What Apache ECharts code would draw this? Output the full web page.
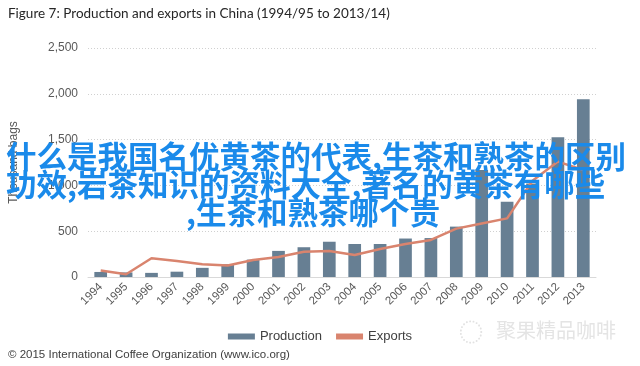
<!DOCTYPE html>
<html><head><meta charset="utf-8">
<script src="https://cdn.jsdelivr.net/npm/echarts@6/dist/echarts.min.js"></script>
<style>html,body{margin:0;padding:0;background:#fff}#c{width:640px;height:366px}</style>
</head><body><div id="c"></div>
<script>
const years = ['1994','1995','1996','1997','1998','1999','2000','2001','2002','2003','2004','2005','2006','2007','2008','2009','2010','2011','2012','2013'];
const production = [55,50,45,58,100,140,190,285,325,385,360,360,420,425,550,1168,822,1020,1525,1940];
const exportsData = [70,30,205,175,140,125,185,218,275,285,240,305,360,405,528,585,640,1050,1260,1168];
const yTicks = [0,500,1000,1500,2000,2500];
const titleText = 'Figure 7: Production and exports in China (1994/95 to 2013/14)';
const footerText = '© 2015 International Coffee Organization (www.ico.org)';
const overlayLines = ['什么是我国名优黄茶的代表,生茶和熟茶的区别','功效,岩茶知识的资料大全,著名的黄茶有哪些',',生茶和熟茶哪个贵'];
const watermarkText = '聚果精品咖啡';

const chart = echarts.init(document.getElementById('c'), null, {renderer:'canvas'});
const fmt = v => v.toLocaleString('en-US');
chart.setOption({
  animation:false,
  backgroundColor:'#fff',
  grid:{left:87,right:44,top:48,bottom:89,containLabel:false},
  legend:{
    left:'center', top:325, itemGap:14, itemWidth:27, itemHeight:6,
    textStyle:{fontFamily:'Liberation Sans',fontSize:13,color:'#404040'},
    data:[{name:'Production',icon:'rect'},{name:'Exports',icon:'rect'}]
  },
  xAxis:{
    type:'category', data:years,
    axisTick:{show:false},
    axisLine:{show:true,lineStyle:{color:'#d9d9d9',width:1}},
    axisLabel:{rotate:45,fontFamily:'Liberation Sans',fontSize:11.5,color:'#595959',margin:8,interval:0}
  },
  yAxis:{
    type:'value', min:yTicks[0], max:yTicks[yTicks.length-1], interval:500,
    name:'Thousand bags', nameLocation:'middle', nameRotate:90, nameGap:68,
    nameTextStyle:{fontFamily:'Liberation Sans',fontSize:12,color:'#595959'},
    axisLine:{show:false}, axisTick:{show:false},
    axisLabel:{formatter:fmt,fontFamily:'Liberation Sans',fontSize:12,color:'#595959',margin:10},
    splitLine:{lineStyle:{color:'#d0d0d0',type:[1,2],width:1}}
  },
  series:[
    {name:'Production',type:'bar',data:production,barWidth:'50%',itemStyle:{color:'#677f93'}},
    {name:'Exports',type:'line',data:exportsData,symbol:'none',lineStyle:{color:'#d9846e',width:2.5},itemStyle:{color:'#d9846e'}}
  ],
  graphic:[
    {type:'text',left:8,top:7,style:{text:titleText,font:'13.5px Lato',fill:'#262626'}},
    {type:'text',left:8,top:349,style:{text:footerText,font:'11.5px "Liberation Sans"',fill:'#404040'}},
    {type:'text',left:459,top:320,style:{text:'◌',font:'24px "Noto Sans CJK SC"',fill:'#e2e2e2'}},
    {type:'text',left:496,top:320,style:{text:watermarkText,font:'20px "Noto Sans CJK SC"',fill:'#e4e4e4'}},
    {type:'text',left:6,top:141,z:100,style:{text:overlayLines[0],font:'bold 30.5px "Noto Sans CJK SC"',fill:'#1a8aea'}},
    {type:'text',left:6,top:169,z:100,style:{text:overlayLines[1],font:'bold 30.5px "Noto Sans CJK SC"',fill:'#1a8aea'}},
    {type:'text',left:186,top:197,z:100,style:{text:overlayLines[2],font:'bold 30.5px "Noto Sans CJK SC"',fill:'#1a8aea'}}
  ]
});
</script></body></html>
